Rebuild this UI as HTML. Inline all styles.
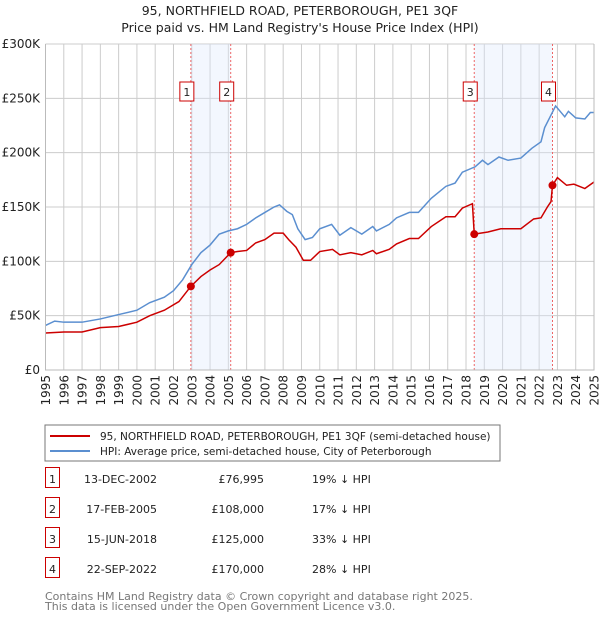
<!DOCTYPE html>
<html><head><meta charset="utf-8"><style>
body{margin:0;background:#fff;}
svg text{font-family:"DejaVu Sans","Liberation Sans",sans-serif;}
</style></head><body>
<svg id="chart" width="600" height="620" xmlns="http://www.w3.org/2000/svg">
<text x="300" y="15" text-anchor="middle" font-size="12.5" fill="#222">95, NORTHFIELD ROAD, PETERBOROUGH, PE1 3QF</text>
<text x="300" y="32" text-anchor="middle" font-size="12.5" fill="#222">Price paid vs. HM Land Registry's House Price Index (HPI)</text>
<g id="grid"></g>
<g id="bands"></g>
<g id="lines"></g>
<g id="marks"></g>
<g id="axes"></g>
<rect x="45" y="425" width="455" height="36" fill="#fff" stroke="#777"/>
<line x1="50" y1="436" x2="90" y2="436" stroke="#cc0000" stroke-width="2"/>
<text x="100" y="440" font-size="10.5" fill="#222">95, NORTHFIELD ROAD, PETERBOROUGH, PE1 3QF (semi-detached house)</text>
<line x1="50" y1="451" x2="90" y2="451" stroke="#5b8fd0" stroke-width="2"/>
<text x="100" y="455" font-size="10.5" fill="#222">HPI: Average price, semi-detached house, City of Peterborough</text>
<g id="table" font-size="11" fill="#222"></g>
<text x="45" y="600" font-size="11" fill="#777">Contains HM Land Registry data © Crown copyright and database right 2025.</text>
<text x="45" y="610" font-size="11" fill="#777">This data is licensed under the Open Government Licence v3.0.</text>
</svg>
<script>
const hpiYears=[1995,1995.5,1996,1997,1998,1999,2000,2000.7,2001.5,2002,2002.5,2003,2003.5,2004,2004.5,2005,2005.5,2006,2006.5,2007,2007.5,2007.8,2008.2,2008.5,2008.8,2009.2,2009.6,2010,2010.65,2011.1,2011.7,2012.3,2012.9,2013.1,2013.8,2014.2,2014.9,2015.4,2016.1,2016.9,2017.4,2017.8,2018.5,2018.9,2019.2,2019.8,2020.3,2021.0,2021.6,2022.1,2022.3,2022.6,2022.9,2023.4,2023.6,2024.0,2024.5,2024.8,2025];
const hpiValues=[41,45,44,44,47,51,55,62,67,73,83,97,108,115,125,128,130,134,140,145,150,152,146,143,130,120,122,130,134,124,131,125,132,128,134,140,145,145,158,169,172,182,187,193,189,196,193,195,204,210,223,233,243,233,238,232,231,237,237];
const priceYears=[1995,1996,1997,1998,1999,2000,2000.7,2001.5,2002.3,2002.95,2003.5,2004,2004.5,2005.13,2005.5,2006,2006.5,2007,2007.5,2008,2008.3,2008.7,2009.1,2009.5,2010,2010.7,2011.1,2011.7,2012.3,2012.9,2013.1,2013.8,2014.2,2014.9,2015.4,2016.1,2016.9,2017.4,2017.8,2018.35,2018.45,2019.2,2019.9,2021.0,2021.7,2022.1,2022.45,2022.65,2022.73,2023.0,2023.5,2023.9,2024.5,2025];
const priceValues=[34,35,35,39,40,44,50,55,63,77,86,92,97,108,109,110,117,120,126,126,120,113,101,101,109,111,106,108,106,110,107,111,116,121,121,132,141,141,149,153,125,127,130,130,139,140,150,155,170,177,170,171,167,173];
const saleYears=[2002.95,2005.13,2018.45,2022.73];
const saleValues=[76.995,108,125,170];
const saleLabels=["1","2","3","4"];
const saleDates=["13-DEC-2002","17-FEB-2005","15-JUN-2018","22-SEP-2022"];
const salePrices=["£76,995","£108,000","£125,000","£170,000"];
const salePct=["19% ↓ HPI","17% ↓ HPI","33% ↓ HPI","28% ↓ HPI"];
const yTicks=[0,50,100,150,200,250,300];
const yTickLabels=["£0","£50K","£100K","£150K","£200K","£250K","£300K"];
const xTicks=[1995,1996,1997,1998,1999,2000,2001,2002,2003,2004,2005,2006,2007,2008,2009,2010,2011,2012,2013,2014,2015,2016,2017,2018,2019,2020,2021,2022,2023,2024,2025];

const X0=45.5,X1=594,Y0=370,Y1=44;
const xs=y=>X0+(y-1995)/30*(X1-X0);
const ys=v=>Y0-v/300*(Y0-Y1);
const NS="http://www.w3.org/2000/svg";
function mk(parent,tag,attrs){const e=document.createElementNS(NS,tag);for(const k in attrs)e.setAttribute(k,attrs[k]);document.getElementById(parent).appendChild(e);return e;}

for(let i=0;i<yTicks.length;i++){
  const l=mk('grid','line',{x1:X0,x2:X1,y1:ys(yTicks[i]),y2:ys(yTicks[i]),stroke:'#cccccc'});
  
  
  const t=mk('axes','text',{x:40,y:ys(yTicks[i])+4,'text-anchor':'end','font-size':'12',fill:'#222'});
  t.textContent=yTickLabels[i];
  
  
}
for(const yr of xTicks){
  const l=mk('grid','line',{x1:xs(yr),x2:xs(yr),y1:Y1,y2:Y0,stroke:'#cccccc'});
  
  
  const t=mk('axes','text',{x:0,y:0,'text-anchor':'end','font-size':'12',fill:'#222',transform:`translate(${xs(yr)+4.5},${Y0+5}) rotate(-90)`});
  t.textContent=yr;
  
  
}
[[0,1],[2,3]].forEach(p=>{
  const r=mk('bands','rect',{x:xs(saleYears[p[0]]),y:Y1,width:xs(saleYears[p[1]])-xs(saleYears[p[0]]),height:Y0-Y1,fill:'#dde8fb',opacity:'0.35'});
  
  
});
for(let i=0;i<saleYears.length;i++){
  const l=mk('bands','line',{x1:xs(saleYears[i]),x2:xs(saleYears[i]),y1:Y1,y2:Y0,stroke:'#ee6666','stroke-dasharray':'2,2'});
  
  
  const b=mk('marks','rect',{x:xs(saleYears[i])-11,y:82,width:14,height:19,fill:'#fff',stroke:'#cc0000'});
  
  
  const t=mk('marks','text',{x:xs(saleYears[i])-4,y:96,'text-anchor':'middle','font-size':'11',fill:'#222'});
  t.textContent=saleLabels[i];
  
  
}
const hp=mk('lines','polyline',{points:hpiYears.map((y,i)=>xs(y)+','+ys(hpiValues[i])).join(' '),fill:'none',stroke:'#5b8fd0','stroke-width':'1.5'});


const pp=mk('lines','polyline',{points:priceYears.map((y,i)=>xs(y)+','+ys(priceValues[i])).join(' '),fill:'none',stroke:'#cc0000','stroke-width':'1.5'});


for(let i=0;i<saleYears.length;i++){
  const c=mk('marks','circle',{cx:xs(saleYears[i]),cy:ys(saleValues[i]),r:4,fill:'#cc0000'});
  
  
}
const ax=mk('axes','polyline',{points:`${X0},${Y1} ${X0},${Y0} ${X1},${Y0} ${X1},${Y1}`,fill:'none',stroke:'#bbb'});


for(let i=0;i<saleLabels.length;i++){
  const y=483+i*30;
  const b=mk('table','rect',{x:45.5,y:y-15.5,width:14,height:20,fill:'#fff',stroke:'#cc0000'});
  
  
  const n=mk('table','text',{x:52.5,y:y,'text-anchor':'middle'});n.textContent=saleLabels[i];
  
  
  const d=mk('table','text',{x:157,y:y,'text-anchor':'end'});d.textContent=saleDates[i];
  
  
  const p=mk('table','text',{x:264,y:y,'text-anchor':'end'});p.textContent=salePrices[i];
  
  
  const q=mk('table','text',{x:312,y:y});q.textContent=salePct[i];
  
  
}
</script>
</body></html>
